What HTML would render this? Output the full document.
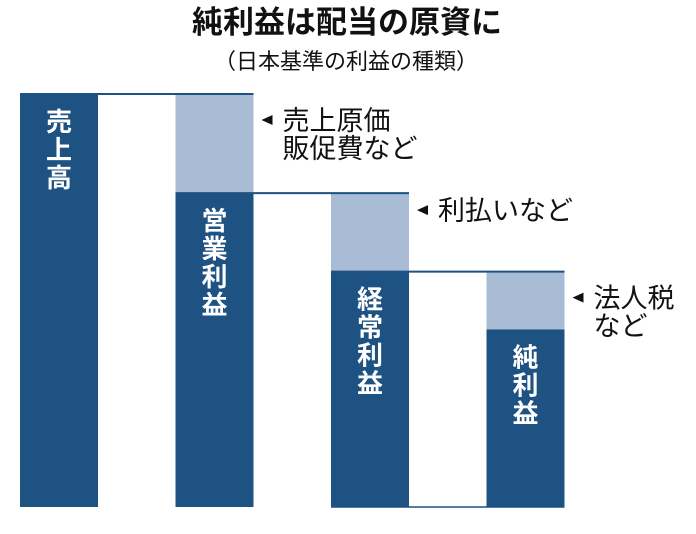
<!DOCTYPE html>
<html><head><meta charset="utf-8"><style>
html,body{margin:0;padding:0;background:#fff;}
body{width:696px;height:529px;overflow:hidden;font-family:"Liberation Sans","Noto Sans CJK JP",sans-serif;}
</style></head><body>
<svg id="chart" width="696" height="529" viewBox="0 0 696 529" xmlns="http://www.w3.org/2000/svg" font-family="'Liberation Sans','Noto Sans CJK JP',sans-serif">
<text x="347" y="33" text-anchor="middle" font-size="31" font-weight="bold" fill="#111">純利益は配当の原資に</text>
<text x="346" y="69" text-anchor="middle" font-size="22" fill="#111">（日本基準の利益の種類）</text>
<g id="bars"></g>
</svg>
<script>
const categories = ["売上高","営業利益","経常利益","純利益"];
const values = [100, 76, 57, 43];
const notes = [["売上原価","販促費など"],["利払いなど"],["法人税","など"]];
const svg = document.getElementById('bars');
const NS = "http://www.w3.org/2000/svg";
const y0 = 507, yTop = 94, maxV = 100;
function y(v){ return y0 - (v/maxV)*(y0-yTop); }
function x(i){ return 20 + i*155.5; }
const bw = 78;
function mk(tag, attrs){ const e=document.createElementNS(NS,tag); for(const k in attrs) e.setAttribute(k,attrs[k]); svg.appendChild(e); return e; }
categories.forEach((c,i)=>{
  const v = values[i];
  if(i>0){
    const lt = mk('rect',{x:x(i),y:y(values[i-1]),width:bw,height:y(v)-y(values[i-1]),fill:'#a8bcd5'});
    
    
    const ln = mk('line',{x1:x(i-1),x2:x(i)+bw,y1:y(values[i-1]),y2:y(values[i-1]),stroke:'#1d5282','stroke-width':2});
    
    
    const n = notes[i-1];
    const ax = x(i)+bw+8, base = y(values[i-1]) + (n.length>1?36:27);
    const ar = mk('polygon',{points:`${ax},${base-10} ${ax+11},${base-15} ${ax+11},${base-5}`,fill:'#111'});
    
    
    n.forEach((t,j)=>{
      const tx = mk('text',{x:ax+21,y:base+j*28,'font-size':27,fill:'#111'}); tx.textContent=t;
      
      
    });
  }
  const r = mk('rect',{x:x(i),y:y(v),width:bw,height:y0-y(v),fill:'#1d5282'});
  
  
  [...c].forEach((ch,j)=>{
    const t = mk('text',{x:x(i)+bw/2,y:y(v)+37+j*28,'text-anchor':'middle','font-size':26,'font-weight':'bold',fill:'#fff'});
    t.textContent=ch;
    
    
  });
});
const bl = mk('line',{x1:x(2),x2:x(3)+bw,y1:y0,y2:y0,stroke:'#1d5282','stroke-width':1.5});


</script>
</body></html>
